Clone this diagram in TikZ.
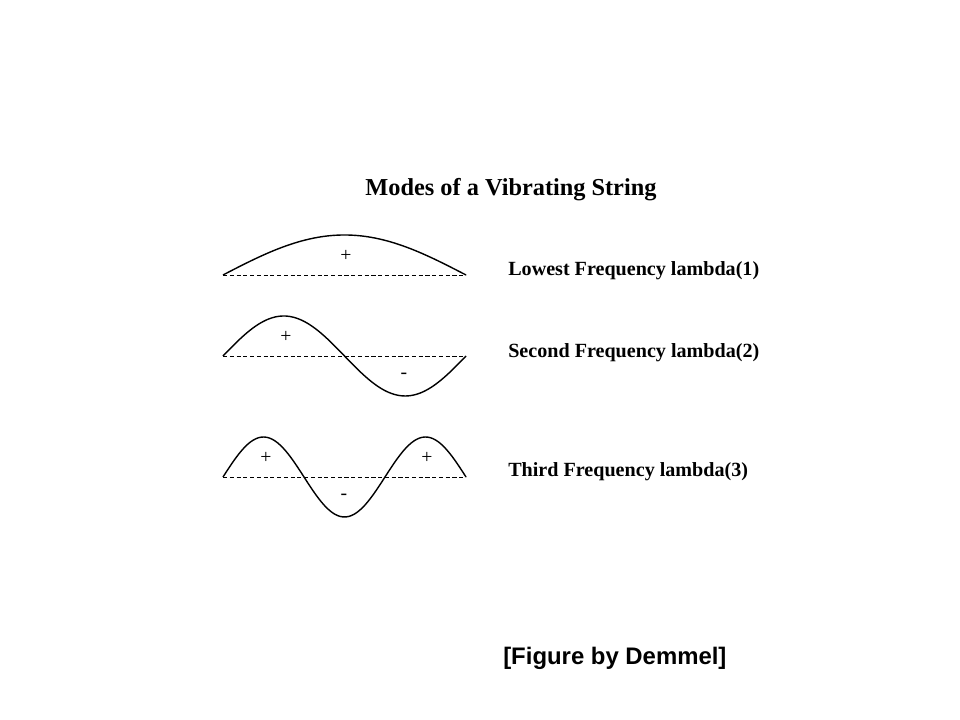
\documentclass[tikz,border=0pt]{standalone}
\usepackage{fontspec}
\setmainfont{Liberation Serif}
\newfontfamily\creditfont{Liberation Sans}
\usepackage{tikz}
\usetikzlibrary{positioning}
\tikzset{
    stringMode/.pic={
		\draw[line width=0.5pt, dash pattern=on 3pt off 1.8pt] (0,0) -- (243,0);
		\draw[line width=1pt] plot[domain=0:180, samples=90, smooth] ({\x*1.35},{40*sin(#1*\x)});
	}
}
\tikzset{
    modeLabel/.style={anchor=base west, inner sep=0pt, font=\bfseries\fontsize{14.3}{16}\selectfont},
    signLabel/.style={inner sep=0pt, font=\fontsize{14}{16}\selectfont}
}

\begin{document}
\begin{tikzpicture}[x=0.025cm, y=0.025cm]
			\useasboundingbox (0,0) rectangle (960,720);
			\node[anchor=base, inner sep=0pt, font=\bfseries\fontsize{17.3}{20}\selectfont] (title) at (511,524) {Modes of a Vibrating String};
			\pic at(223,445) {stringMode={1}};
			\pic at(223,364) {stringMode={2}};
			\pic at(223,243) {stringMode={3}};
			\node[signLabel] (plus1) at (346,464) {+};
			\node[signLabel] (plus2) at (286,383) {+};
			\node[signLabel] (minus2) at (404,344) {-};
			\node[signLabel] (plus3a) at (266,262) {+};
			\node[signLabel] (plus3b) at (427,262) {+};
			\node[signLabel] (minus3) at (344,223) {-};
			\node[modeLabel] (lowest) at (508,444) {Lowest Frequency lambda(1)};
			\node[modeLabel] (second) at (508,362) {Second Frequency lambda(2)};
			\node[modeLabel] (third) at (508,243) {Third Frequency lambda(3)};
			\node[anchor=base west, inner sep=0pt, font=\creditfont\bfseries\fontsize{17}{20}\selectfont] (credit) at (503,55) {[Figure by Demmel]};
		\end{tikzpicture}
\end{document}
